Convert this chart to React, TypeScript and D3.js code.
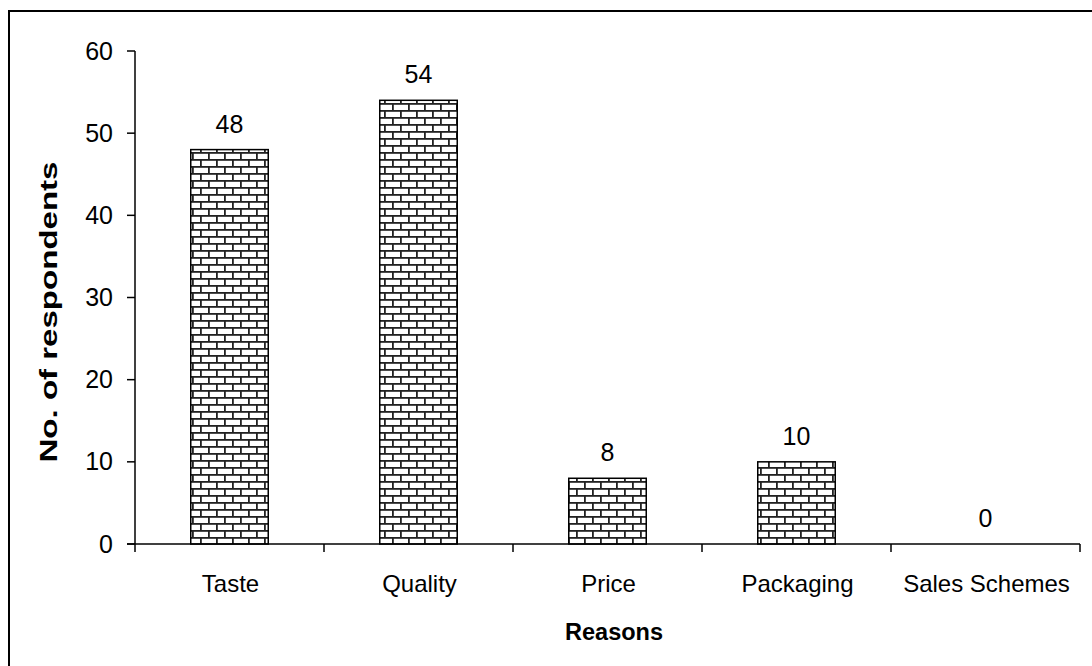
import React from "react";
import * as d3 from "d3";

const categories = ["Taste", "Quality", "Price", "Packaging", "Sales Schemes"];
const values = [48, 54, 8, 10, 0];
const yTicks = [0, 10, 20, 30, 40, 50, 60];

export default function App() {
  const W = 1092, H = 666;
  const left = 135, right = 1080, top = 51, bottom = 544;
  const x = d3.scaleBand<string>().domain(categories).range([left, right]).padding(0);
  const y = d3.scaleLinear().domain([0, 60]).range([bottom, top]);
  const bw = x.bandwidth() * 0.41;
  const font = "'Liberation Sans', Arial, sans-serif";
  const boundaries = categories.map((c) => x(c)!).concat([right]);
  return (
    <svg width={W} height={H} style={{ position: "absolute", left: 0, top: 0 }}>
      <defs>
        <pattern id="brick" patternUnits="userSpaceOnUse" width="16" height="14" x={0} y={bottom}>
          <rect width="16" height="14" fill="#fff" />
          <rect x="0" y="0" width="16" height="1.8" fill="#222" />
          <rect x="0" y="7" width="16" height="1.8" fill="#222" />
          <rect x="0" y="0" width="1.8" height="7" fill="#222" />
          <rect x="8" y="7" width="1.8" height="7" fill="#222" />
        </pattern>
      </defs>
      <rect x={0} y={0} width={W} height={H} fill="#fff" />
      <rect x={9} y={11} width={1100} height={700} fill="none" stroke="#000" strokeWidth={2} />
      {categories.map((c, i) => {
        const cx = x(c)! + x.bandwidth() / 2;
        const v = values[i];
        return (
          <g key={c}>
            {v > 0 && (
              <rect x={cx - bw / 2} y={y(v)} width={bw} height={y(0) - y(v)} fill="url(#brick)" stroke="#000" strokeWidth={1.5} />
            )}
            <text x={cx} y={y(v) - 17} textAnchor="middle" fontFamily={font} fontSize={25} fill="#000">{v}</text>
            <text x={cx + 1} y={591.5} textAnchor="middle" fontFamily={font} fontSize={24} fill="#000">{c}</text>
          </g>
        );
      })}
      <line x1={left} x2={left} y1={top} y2={bottom} stroke="#000" strokeWidth={1.5} />
      {yTicks.map((t) => (
        <g key={t}>
          <line x1={left - 8} x2={left} y1={y(t)} y2={y(t)} stroke="#000" strokeWidth={1.5} />
          <text x={113} y={y(t) + 8.5} textAnchor="end" fontFamily={font} fontSize={25} fill="#000">{t}</text>
        </g>
      ))}
      <line x1={left - 8} x2={right} y1={bottom} y2={bottom} stroke="#000" strokeWidth={1.5} />
      {boundaries.map((b, i) => (
        <line key={i} x1={b} x2={b} y1={bottom} y2={bottom + 8} stroke="#000" strokeWidth={1.5} />
      ))}
      <text x={614} y={640} textAnchor="middle" fontFamily={font} fontSize={23.5} fontWeight="bold" fill="#000">Reasons</text>
      <text transform={`translate(57, 312) rotate(-90)`} textAnchor="middle" fontFamily={font} fontSize={23} fontWeight="bold" fill="#000" textLength={301} lengthAdjust="spacingAndGlyphs">No. of respondents</text>
    </svg>
  );
}
